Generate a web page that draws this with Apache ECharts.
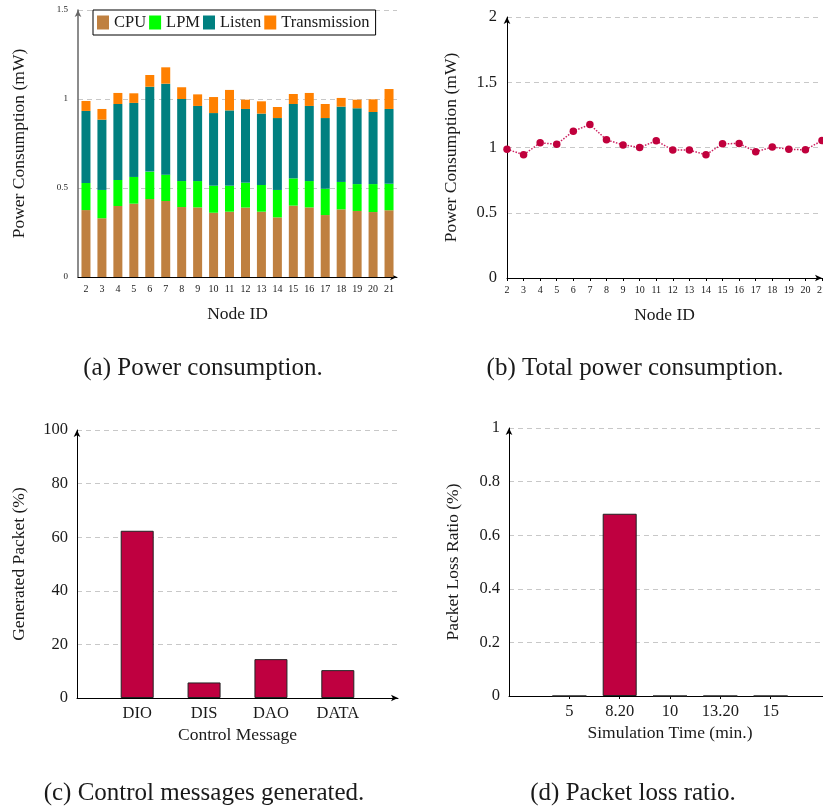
<!DOCTYPE html>
<html>
<head>
<meta charset="utf-8">
<title>Power / control messages / packet loss</title>
<script src="https://cdn.jsdelivr.net/npm/echarts@6.0.0/dist/echarts.min.js"></script>
<style>
html, body { margin: 0; padding: 0; background: #fff; }
#chart { width: 823px; height: 807px; }
</style>
</head>
<body>
<div id="chart"></div>
<script>
// (a) power consumption per node, stacked
var nodeIds = ['2','3','4','5','6','7','8','9','10','11','12','13','14','15','16','17','18','19','20','21'];
var cpuPower = [0.376,0.330,0.399,0.412,0.438,0.427,0.393,0.391,0.361,0.367,0.390,0.367,0.335,0.401,0.391,0.348,0.380,0.371,0.365,0.375];
var lpmPower = [0.152,0.159,0.146,0.150,0.154,0.148,0.146,0.148,0.152,0.146,0.140,0.150,0.154,0.153,0.148,0.148,0.154,0.151,0.157,0.149];
var listenPower = [0.405,0.395,0.427,0.416,0.477,0.511,0.461,0.422,0.408,0.423,0.414,0.401,0.404,0.418,0.422,0.397,0.423,0.426,0.405,0.420];
var txPower = [0.056,0.060,0.062,0.054,0.066,0.092,0.066,0.065,0.090,0.115,0.052,0.069,0.062,0.056,0.073,0.079,0.049,0.048,0.071,0.112];

// (b) total power consumption per node
var totalPower = [0.987,0.944,1.036,1.025,1.125,1.176,1.059,1.020,1.000,1.051,0.980,0.980,0.944,1.028,1.031,0.967,1.003,0.987,0.982,1.053];

// (c) control messages generated (%)
var messageTypes = ['DIO','DIS','DAO','DATA'];
var generatedPacket = [62.4, 5.8, 14.5, 10.4];

// (d) packet loss ratio (%)
var simTimes = ['5','8.20','10','13.20','15'];
var lossRatio = [0, 0.68, 0, 0, 0];

var FONT = 'Liberation Serif';
var TXT = '#1a1a1a';
var GRID_LINE = { show: true, lineStyle: { type: [5, 4], color: '#c8c8c8', width: 1 } };
var BAR_RED = '#bf0040';

// symbolic x coords: put the items on a finer category axis so the
// empty space left/right of the bars matches the original
function spread(items, lead, step, trail, fill) {
    var n = lead + (items.length - 1) * step + 1 + trail;
    var out = [];
    for (var i = 0; i < n; i++) out.push(fill);
    items.forEach(function (v, k) { out[lead + k * step] = v; });
    return out;
}
function slotTest(lead, step, count) {
    return function (index) {
        var k = index - lead;
        return k >= 0 && k % step === 0 && k / step < count;
    };
}

function arrowLine(color, width) {
    return { show: true, symbol: ['none', 'arrow'], symbolSize: [5, 7],
             lineStyle: { color: color, width: width } };
}
function nameStyle(size) {
    return { fontFamily: FONT, fontSize: size, color: TXT };
}
function labelStyle(size, margin) {
    return { fontFamily: FONT, fontSize: size, color: TXT, margin: margin };
}
function caption(text, x, y) {
    return { text: text, left: x, top: y, textAlign: 'center', padding: 0,
             textStyle: { fontFamily: FONT, fontSize: 25, fontWeight: 'normal', color: TXT } };
}

var chart = echarts.init(document.getElementById('chart'), null, { renderer: 'canvas' });

var option = {
    animation: false,
    backgroundColor: '#fff',
    title: [
        caption('(a) Power consumption.', 203, 356),
        caption('(b) Total power consumption.', 635, 356),
        caption('(c) Control messages generated.', 204, 781),
        caption('(d) Packet loss ratio.', 633, 781)
    ],
    legend: {
        data: ['CPU', 'LPM', 'Listen', 'Transmission'],
        left: 93, top: 10,
        icon: 'rect', itemWidth: 12, itemHeight: 14, itemGap: 3,
        padding: [4, 6, 4, 4],
        borderColor: '#000', borderWidth: 1, backgroundColor: '#fff',
        textStyle: { fontFamily: FONT, fontSize: 16.5, color: TXT }
    },
    grid: [
        { left: 78, top: 10, width: 319, height: 267, outerBoundsMode: 'none' },
        { left: 507, top: 17, width: 315, height: 261, outerBoundsMode: 'none' },
        { left: 77, top: 430, width: 321, height: 268, outerBoundsMode: 'none' },
        { left: 509, top: 428, width: 322, height: 268, outerBoundsMode: 'none' }
    ],
    xAxis: [
        { gridIndex: 0, type: 'category', data: nodeIds, boundaryGap: true,
          axisLine: arrowLine('#000', 1), axisTick: { show: false },
          axisLabel: Object.assign(labelStyle(10, 7), { interval: 0 }),
          splitLine: { show: false },
          name: 'Node ID', nameLocation: 'middle', nameGap: 28, nameTextStyle: nameStyle(17.5) },
        { gridIndex: 1, type: 'category', data: nodeIds, boundaryGap: false,
          axisLine: arrowLine('#000', 1),
          axisTick: { show: true, interval: 0, length: 3, lineStyle: { color: '#000' } },
          axisLabel: Object.assign(labelStyle(10, 7), { interval: 0 }),
          splitLine: { show: false },
          name: 'Node ID', nameLocation: 'middle', nameGap: 28, nameTextStyle: nameStyle(17.5) },
        { gridIndex: 2, type: 'category', data: spread(messageTypes, 9, 10, 9, ''), boundaryGap: false,
          axisLine: arrowLine('#000', 1), axisTick: { show: false },
          axisLabel: Object.assign(labelStyle(16.5, 7), { interval: slotTest(9, 10, messageTypes.length) }),
          splitLine: { show: false },
          name: 'Control Message', nameLocation: 'middle', nameGap: 28, nameTextStyle: nameStyle(17.5) },
        { gridIndex: 3, type: 'category', data: spread(simTimes, 12, 10, 12, ''), boundaryGap: false,
          axisLine: arrowLine('#000', 1),
          axisTick: { show: true, length: 3, interval: slotTest(12, 10, simTimes.length), lineStyle: { color: '#000' } },
          axisLabel: Object.assign(labelStyle(16.5, 7), { interval: slotTest(12, 10, simTimes.length) }),
          splitLine: { show: false },
          name: 'Simulation Time (min.)', nameLocation: 'middle', nameGap: 28, nameTextStyle: nameStyle(17.5) }
    ],
    yAxis: [
        { gridIndex: 0, type: 'value', min: 0, max: 1.5, interval: 0.5,
          axisLine: arrowLine('#666', 1.5), axisTick: { show: false },
          axisLabel: labelStyle(9, 10), splitLine: GRID_LINE,
          name: 'Power Consumption (mW)', nameLocation: 'middle', nameRotate: 90, nameGap: 50,
          nameTextStyle: nameStyle(17.5) },
        { gridIndex: 1, type: 'value', min: 0, max: 2, interval: 0.5,
          axisLine: arrowLine('#000', 1), axisTick: { show: false },
          axisLabel: labelStyle(16.5, 10), splitLine: GRID_LINE,
          name: 'Power Consumption (mW)', nameLocation: 'middle', nameRotate: 90, nameGap: 47,
          nameTextStyle: nameStyle(17.5) },
        { gridIndex: 2, type: 'value', min: 0, max: 100, interval: 20,
          axisLine: arrowLine('#000', 1), axisTick: { show: false },
          axisLabel: labelStyle(16.5, 9), splitLine: GRID_LINE,
          name: 'Generated Packet (%)', nameLocation: 'middle', nameRotate: 90, nameGap: 49,
          nameTextStyle: nameStyle(17.5) },
        { gridIndex: 3, type: 'value', min: 0, max: 1, interval: 0.2,
          axisLine: arrowLine('#000', 1), axisTick: { show: false },
          axisLabel: labelStyle(16.5, 9), splitLine: GRID_LINE,
          name: 'Packet Loss Ratio (%)', nameLocation: 'middle', nameRotate: 90, nameGap: 47,
          nameTextStyle: nameStyle(17.5) }
    ],
    series: [
        { name: 'CPU', type: 'bar', stack: 'power', xAxisIndex: 0, yAxisIndex: 0, barWidth: 9,
          itemStyle: { color: '#bf8040' }, data: cpuPower },
        { name: 'LPM', type: 'bar', stack: 'power', xAxisIndex: 0, yAxisIndex: 0, barWidth: 9,
          itemStyle: { color: '#00ff00' }, data: lpmPower },
        { name: 'Listen', type: 'bar', stack: 'power', xAxisIndex: 0, yAxisIndex: 0, barWidth: 9,
          itemStyle: { color: '#008080' }, data: listenPower },
        { name: 'Transmission', type: 'bar', stack: 'power', xAxisIndex: 0, yAxisIndex: 0, barWidth: 9,
          itemStyle: { color: '#ff8000' }, data: txPower },
        { name: 'Total', type: 'line', xAxisIndex: 1, yAxisIndex: 1, data: totalPower,
          symbol: 'circle', symbolSize: 7.5, z: 5,
          lineStyle: { type: 'dotted', width: 1.5, color: '#cc2060' },
          itemStyle: { color: '#c0003c' } },
        { name: 'Generated', type: 'bar', xAxisIndex: 2, yAxisIndex: 2, barWidth: 33,
          itemStyle: { color: BAR_RED, borderColor: '#222', borderWidth: 1 },
          data: spread(generatedPacket, 9, 10, 9, '-') },
        { name: 'Loss', type: 'bar', xAxisIndex: 3, yAxisIndex: 3, barWidth: 34,
          itemStyle: { color: BAR_RED, borderColor: '#222', borderWidth: 1 },
          data: spread(lossRatio, 12, 10, 12, '-') }
    ]
};

chart.setOption(option);
window.onresize = chart.resize;
</script>
</body>
</html>
